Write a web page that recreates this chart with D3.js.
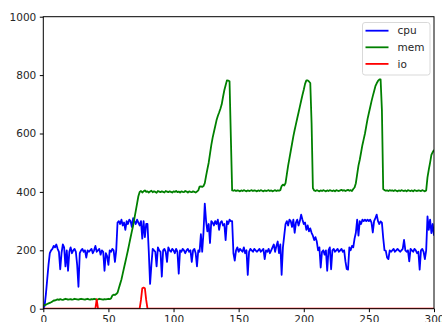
<!DOCTYPE html>
<html><head><meta charset="utf-8">
<script src="https://cdn.jsdelivr.net/npm/d3@7"></script>
<style>body{margin:0;background:#fff}svg{display:block}text{font-family:"DejaVu Sans",sans-serif}</style>
</head><body><svg id="c" width="442" height="322"></svg>
<script>
const seriesNames = ["cpu","mem","io"];
const seriesColors = ["#0000ff","#008000","#ff0000"];
const xTicks = [0,50,100,150,200,250,300];
const yTicks = [0,200,400,600,800,1000];
const cpu = [
0,10,50,100,150,190,200,205,215,210,
220,205,195,135,190,220,210,145,200,130,
195,210,190,200,205,195,150,75,190,200,
205,195,200,175,200,195,200,205,190,200,
215,195,200,205,185,200,195,130,190,180,
150,200,195,205,200,160,200,295,300,290,
305,285,295,270,300,290,305,300,280,310,
300,290,305,295,285,300,240,300,245,290,
290,195,85,150,205,200,195,145,210,200,
195,110,200,205,195,160,210,200,195,205,
200,190,205,195,120,200,195,205,200,190,
200,205,195,200,160,200,205,190,145,200,
195,255,195,260,360,300,265,290,225,300,
295,285,300,290,305,270,295,300,285,290,
235,300,290,305,300,300,190,165,200,210,
195,205,200,195,210,190,200,116,195,205,
200,195,205,200,195,200,205,195,200,205,
170,200,195,205,190,200,210,220,195,215,
230,190,220,116,210,250,290,300,285,305,
300,280,305,260,295,305,285,300,322,305,
290,295,270,285,265,275,260,250,235,245,
230,200,210,141,195,200,185,200,130,200,
210,135,200,205,195,200,205,195,200,205,
195,200,162,136,134,210,200,215,210,240,
260,305,250,300,290,305,300,305,300,305,
300,305,295,261,300,310,322,300,290,299,
295,242,200,198,175,170,200,195,200,205,
195,200,205,200,195,200,205,236,200,195,
200,162,205,200,195,205,200,190,195,134,
200,205,195,170,200,316,270,305,259,290,
250];
const mem = [
10,12,14,16,18,20,22,25,28,28,
30,32,30,33,31,30,32,34,33,31,
32,33,31,32,34,33,32,31,33,34,
33,32,31,33,34,32,31,33,32,34,
33,31,32,34,33,32,31,33,32,33,
34,33,35,45,48,47,50,55,70,85,
100,120,140,160,180,200,222,244,265,285,
310,335,360,385,400,403,398,402,405,400,
402,398,401,404,399,402,400,397,403,401,
399,402,400,398,403,401,399,402,400,398,
402,400,403,399,401,398,402,400,399,403,
401,398,402,400,399,402,400,398,401,405,
418,419,417,420,430,455,478,500,530,560,
585,605,625,645,660,672,685,700,725,748,
765,782,781,779,590,405,404,406,403,405,
404,402,405,403,406,404,402,405,403,404,
406,403,405,404,402,405,403,406,404,402,
405,403,404,406,403,405,402,404,406,403,
405,404,406,420,425,422,430,460,490,515,
540,565,590,612,632,652,672,692,712,732,
750,770,782,782,778,773,636,413,405,403,
406,404,402,405,403,406,404,402,405,403,
406,404,403,405,402,406,404,403,405,407,
404,406,403,405,407,404,406,403,410,415,
430,460,490,510,535,560,580,600,625,650,
670,690,710,728,745,762,772,780,785,785,
681,410,406,404,405,403,406,404,405,403,
406,404,402,405,403,406,404,403,405,402,
406,404,403,405,402,406,404,403,405,404,
403,406,404,402,405,450,476,500,527,536,
544];
const io = [
0,0,0,0,0,0,0,0,0,0,
0,0,0,0,0,0,0,0,0,0,
0,0,0,0,0,0,0,0,0,0,
0,0,0,0,0,0,0,0,0,0,
0,32,0,0,0,0,0,0,0,0,
0,0,0,0,0,0,0,0,0,0,
0,0,0,0,0,0,0,0,0,0,
0,0,0,0,0,30,70,72,70,30,
0,0,0,0,0,0,0,0,0,0,
0,0,0,0,0,0,0,0,0,0,
0,0,0,0,0,0,0,0,0,0,
0,0,0,0,0,0,0,0,0,0,
0,0,0,0,0,0,0,0,0,0,
0,0,0,0,0,0,0,0,0,0,
0,0,0,0,0,0,0,0,0,0,
0,0,0,0,0,0,0,0,0,0,
0,0,0,0,0,0,0,0,0,0,
0,0,0,0,0,0,0,0,0,0,
0,0,0,0,0,0,0,0,0,0,
0,0,0,0,0,0,0,0,0,0,
0,0,0,0,0,0,0,0,0,0,
0,0,0,0,0,0,0,0,0,0,
0,0,0,0,0,0,0,0,0,0,
0,0,0,0,0,0,0,0,0,0,
0,0,0,0,0,0,0,0,0,0,
0,0,0,0,0,0,0,0,0,0,
0,0,0,0,0,0,0,0,0,0,
0,0,0,0,0,0,0,0,0,0,
0,0,0,0,0,0,0,0,0,0,
0,0,0,0,0,0,0,0,0,0,
0];
const allSeries = [cpu, mem, io];

const svg = d3.select("#c");
const L = 43.3, R = 434, T = 16.7, B = 308.7;
const x = d3.scaleLinear().domain([0,300]).range([L,R]);
const y = d3.scaleLinear().domain([0,1000]).range([B,T]);

svg.append("defs").append("clipPath").attr("id","clip")
  .append("rect").attr("x",L).attr("y",T).attr("width",R-L).attr("height",B-T);

const line = d3.line().x((d,i)=>x(i)).y(d=>y(d));
const g = svg.append("g").attr("clip-path","url(#clip)");
allSeries.forEach((s,k)=>{
  g.append("path").datum(s).attr("d",line).attr("fill","none")
   .attr("stroke",seriesColors[k]).attr("stroke-width",1.8).attr("stroke-linejoin","round");
});

// spines
svg.append("rect").attr("x",L).attr("y",T).attr("width",R-L).attr("height",B-T)
  .attr("fill","none").attr("stroke","#000").attr("stroke-width",1);

const fs = "10.5px";
const xAxis = svg.append("g").attr("transform",`translate(0,${B})`)
  .call(d3.axisBottom(x).tickValues(xTicks).tickSize(3.5).tickPadding(3.5).tickFormat(d3.format("d")));
const yAxis = svg.append("g").attr("transform",`translate(${L},0)`)
  .call(d3.axisLeft(y).tickValues(yTicks).tickSize(3.5).tickPadding(3.5).tickFormat(d3.format("d")));
[xAxis,yAxis].forEach(a=>{
  a.select(".domain").remove();
  a.selectAll("text").attr("font-size",fs).attr("font-family","DejaVu Sans").attr("fill","#262626");
  a.selectAll("line").attr("stroke","#000");
});

// legend
const lg = svg.append("g");
lg.append("rect").attr("x",362.5).attr("y",22.5).attr("width",67.5).attr("height",52.5)
  .attr("rx",2.5).attr("fill","#fff").attr("fill-opacity",0.8).attr("stroke","#d9d9d9");
seriesNames.forEach((n,k)=>{
  const yy = 30.7 + k*16.6;
  lg.append("line").attr("x1",365.5).attr("x2",388.5).attr("y1",yy).attr("y2",yy)
    .attr("stroke",seriesColors[k]).attr("stroke-width",1.8);
  lg.append("text").attr("x",397.5).attr("y",yy).attr("dy","0.35em")
    .attr("font-size",fs).attr("fill","#262626").text(n);
});
</script></body></html>
